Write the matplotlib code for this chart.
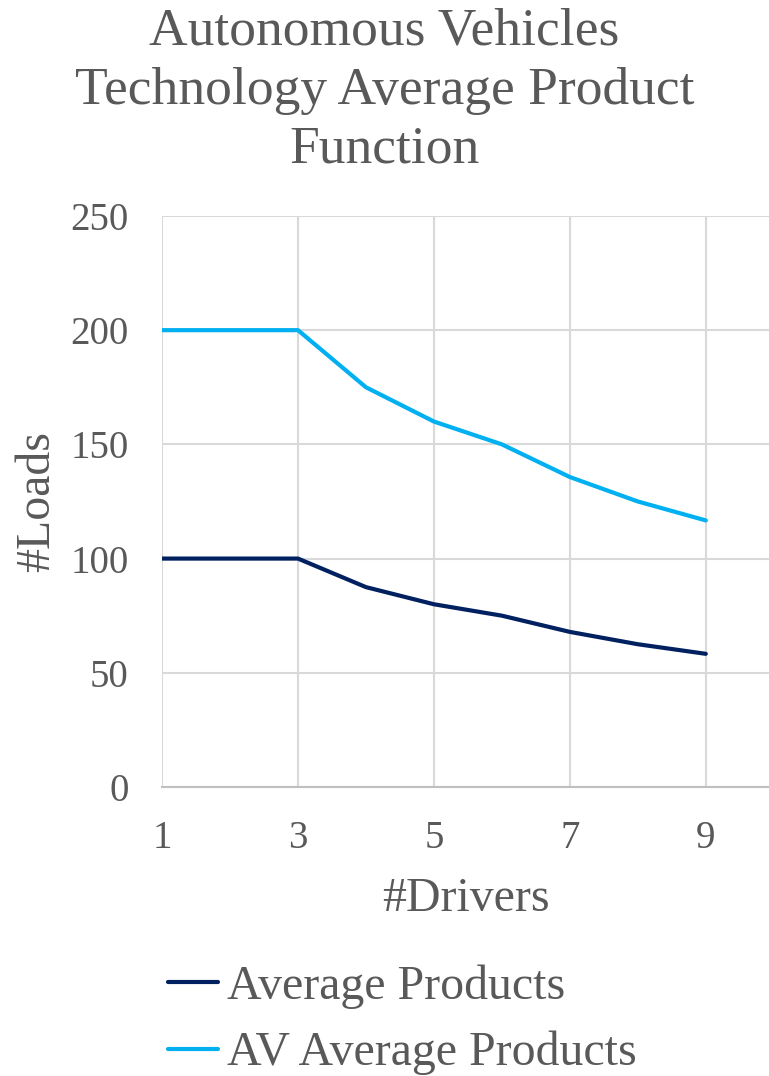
import matplotlib.pyplot as plt

drivers = [1, 2, 3, 4, 5, 6, 7, 8, 9]
avg_products = [100, 100, 100, 87.5, 80, 75, 67.9, 62.5, 58.3]
av_avg_products = [200, 200, 200, 175, 160, 150, 135.7, 125, 116.7]
x_ticks = [1, 3, 5, 7, 9]
y_ticks = [0, 50, 100, 150, 200, 250]

plt.rcParams['font.family'] = ['Liberation Serif', 'DejaVu Serif']
grey = '#595959'

fig = plt.figure(figsize=(7.69, 10.76), dpi=100)
ax = fig.add_axes([0.2107, 0.2686, 0.7893, 0.5307])

l1, = ax.plot(drivers, avg_products, color='#002060', linewidth=3, label='Average Products',
              solid_capstyle='round')
l2, = ax.plot(drivers, av_avg_products, color='#00B0F0', linewidth=3, label='AV Average Products',
              solid_capstyle='round')

ax.set_xlim(1, 9.93)
ax.set_ylim(0, 250)
ax.set_xticks(x_ticks)
ax.set_yticks(y_ticks)
ax.grid(True, color='#d9d9d9', linewidth=1.5)
ax.set_axisbelow(True)
for s in ['top', 'right', 'left']:
    ax.spines[s].set_visible(False)
ax.spines['bottom'].set_color('#bfbfbf')
ax.spines['bottom'].set_linewidth(1.5)
ax.tick_params(length=0, labelsize=28, colors=grey)
ax.tick_params(axis='y', pad=24)
ax.tick_params(axis='x', pad=24)

ax.set_xlabel('#Drivers', fontsize=34.5, color=grey, labelpad=14)
ax.set_ylabel('#Loads', fontsize=34.5, color=grey, labelpad=8)

fig.text(0.5, 0.993, 'Autonomous Vehicles\nTechnology Average Product\nFunction',
         ha='center', va='top', fontsize=38.5, color=grey, linespacing=1.3)

fig.legend(handles=[l1, l2], loc='center left', bbox_to_anchor=(168 / 769, 0.052),
           frameon=False, fontsize=34.5, labelcolor=grey, handlelength=1.04,
           handletextpad=0.2, labelspacing=0.45, borderaxespad=0.0, borderpad=0.0)

fig.savefig('out.png', dpi=100)
